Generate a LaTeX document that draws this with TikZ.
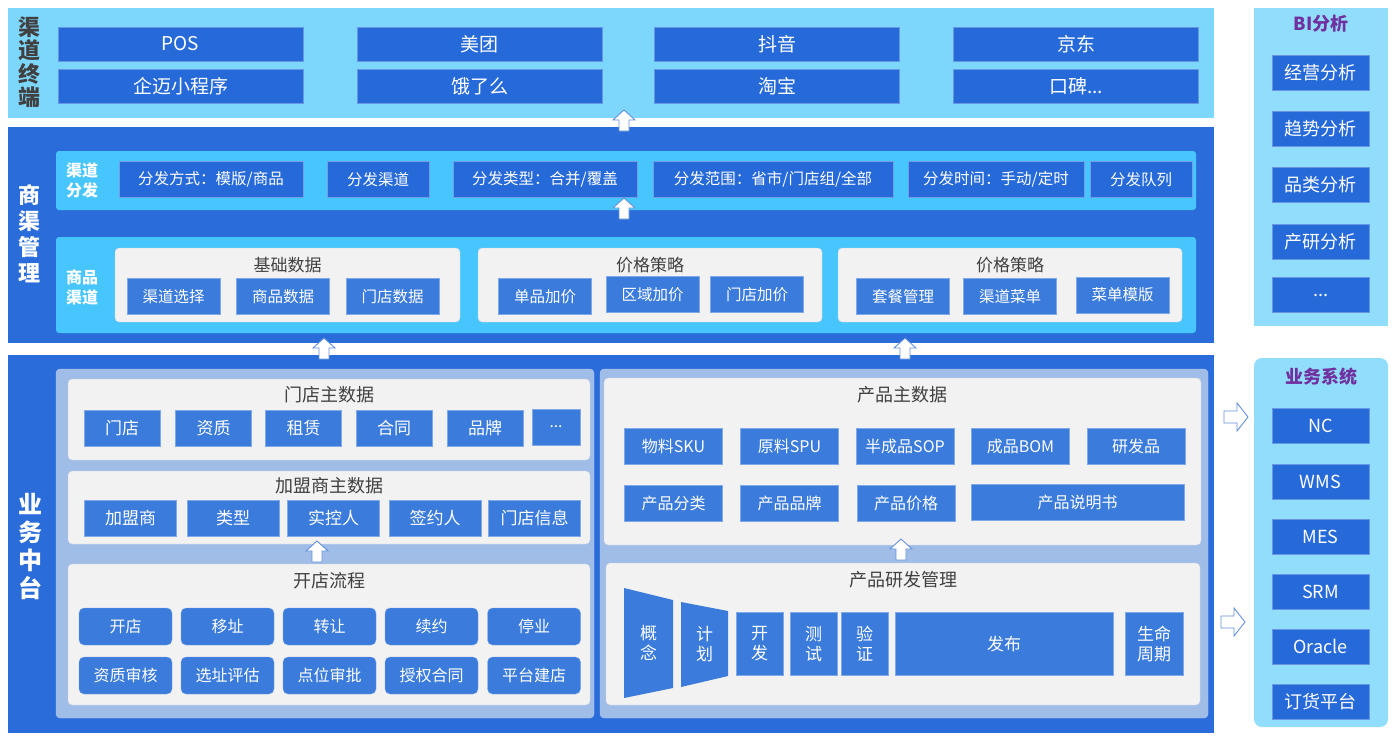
\documentclass[tikz,border=0pt]{standalone}
\usepackage{fontspec}
\setmainfont{Noto Sans CJK SC}

\definecolor{bandblue}{RGB}{42,108,217}
\definecolor{skyband}{RGB}{125,214,252}
\definecolor{cyanband}{RGB}{70,198,252}
\definecolor{boxblue}{RGB}{38,106,217}
\definecolor{innerblue}{RGB}{58,123,219}
\definecolor{panelgray}{RGB}{242,242,242}
\definecolor{panelline}{RGB}{200,208,226}
\definecolor{paleblue}{RGB}{160,189,232}
\definecolor{sidepanel}{RGB}{145,222,252}
\definecolor{titlepurple}{RGB}{112,48,160}
\definecolor{labelgray}{RGB}{64,64,64}
\definecolor{arrowline}{RGB}{100,145,222}
\newcommand{\moredots}{...}

\begin{document}
\begin{tikzpicture}[x=1pt, y=-1pt,
    layer/.style={inner sep=0pt, outer sep=0pt},
    sidelabel/.style={align=center, inner sep=0pt, font=\bfseries\fontsize{22}{26}\selectfont},
    sublabel/.style={align=center, inner sep=0pt, text=white, font=\bfseries\fontsize{16}{20}\selectfont},
    termbox/.style={fill=boxblue, draw=boxblue!70!white, text=white, inner sep=0pt,
      minimum width=245pt, minimum height=34pt, font=\fontsize{19}{21}\selectfont},
    distbox/.style={fill=boxblue, draw=boxblue!65!white, text=white, inner sep=0pt,
      minimum height=36pt, font=\fontsize{15.5}{17}\selectfont},
    grouppanel/.style={fill=panelgray, draw=panelline, rounded corners=4pt, inner sep=0pt},
    paletitle/.style={text=labelgray, inner sep=0pt, font=\fontsize{17}{19}\selectfont},
    ibox/.style={fill=innerblue, draw=innerblue!65!white, text=white, inner sep=0pt,
      minimum height=36pt, font=\fontsize{15.5}{17}\selectfont},
    rbox/.style={ibox, rounded corners=5pt, minimum width=93pt, minimum height=37pt, font=\fontsize{16}{18}\selectfont},
    rdtext/.style={text=white, align=center, inner sep=0pt, font=\fontsize{17}{20}\selectfont},
    sidebox/.style={fill=boxblue, draw=boxblue!70!white, text=white, inner sep=0pt,
      minimum width=97pt, minimum height=35pt, font=\fontsize{18}{20}\selectfont},
    sidetitle/.style={text=titlepurple, inner sep=0pt, font=\bfseries\fontsize{18}{20}\selectfont},
    uparrow/.pic={\draw[draw=arrowline, fill=white, line width=0.9pt]
      (0,0) -- (11,10) -- (5,10) -- (5,21) -- (-5,21) -- (-5,10) -- (-11,10) -- cycle;},
    rightarrow/.pic={\draw[draw=arrowline, fill=white, line width=0.9pt]
      (0,0) -- (-11,-14) -- (-11,-6) -- (-24,-6) -- (-24,6) -- (-11,6) -- (-11,14) -- cycle;}
  ]
  \useasboundingbox (0,0) rectangle (1400,740);

  % Channel terminals
  \node[layer, fill=skyband, minimum width=1206pt, minimum height=110pt] (termlayer) at (611,63) {};
  \node[sidelabel, text=labelgray, font=\bfseries\fontsize{22}{23.5}\selectfont] (termlabel) at (30,62) {渠\\道\\终\\端};
  \foreach \nm/\cx/\txt in {pos/180.5/POS, meituan/479.5/美团, douyin/777/抖音, jingdong/1076/京东}
    \node[termbox] (\nm) at (\cx,44) {\txt};
  \foreach \nm/\cx/\txt in {mini/180.5/企迈小程序, eleme/479.5/饿了么, taobao/777/淘宝, koubei/1076/{口碑\moredots}}
    \node[termbox] (\nm) at (\cx,86.5) {\txt};

  % Channel management
  \node[layer, fill=bandblue, minimum width=1206pt, minimum height=216pt] (mgmtlayer) at (611,235) {};
  \node[sidelabel, text=white] (mgmtlabel) at (30,234) {商\\渠\\管\\理};

  \node[layer, fill=cyanband, rounded corners=3pt, minimum width=1140pt, minimum height=59pt] (distband) at (626,180.5) {};
  \node[sublabel] (distlabel) at (82,180) {渠道\\分发};
  \foreach \nm/\cx/\w/\txt in {distmode/211/184/{分发方式：模版/商品}, distchan/378/102/分发渠道,
      disttype/545/184/{分发类型：合并/覆盖}, distscope/773/240/{分发范围：省市/门店组/全部},
      disttime/996/176/{分发时间：手动/定时}, distqueue/1141/102/分发队列}
    \node[distbox, minimum width=\w pt] (\nm) at (\cx,179.5) {\txt};

  \node[layer, fill=cyanband, rounded corners=3pt, minimum width=1140pt, minimum height=96pt] (goodsband) at (626,285) {};
  \node[sublabel] (goodslabel) at (82,287) {商品\\渠道};
  \node[grouppanel, minimum width=345pt, minimum height=74pt] (basepanel) at (287.5,285) {};
  \node[paletitle] (basetitle) at (287.5,265) {基础数据};
  \node[grouppanel, minimum width=344pt, minimum height=74pt] (pricepanel) at (650,285) {};
  \node[paletitle] (pricetitle) at (650,265) {价格策略};
  \node[grouppanel, minimum width=344pt, minimum height=74pt] (menupanel) at (1010,285) {};
  \node[paletitle] (menutitle) at (1010,265) {价格策略};
  \foreach \nm/\cx/\cy/\txt in {chansel/173.5/296.5/渠道选择, goodsdata/283/296.5/商品数据, storedata/392.5/296.5/门店数据,
      itemprice/545/296.5/单品加价, areaprice/652.5/294.5/区域加价, storeprice/757/294.5/门店加价,
      combo/903/296.5/套餐管理, chanmenu/1010/296.5/渠道菜单, menutpl/1122.5/295/菜单模版}
    \node[ibox, minimum width=93pt] (\nm) at (\cx,\cy) {\txt};

  % Business middle platform
  \node[layer, fill=bandblue, minimum width=1206pt, minimum height=378pt] (bizlayer) at (611,544) {};
  \node[sidelabel, text=white, font=\bfseries\fontsize{24}{28}\selectfont] (bizlabel) at (30,546) {业\\务\\中\\台};
  \node[layer, fill=paleblue, draw=paleblue!85!white, rounded corners=4pt, minimum width=538pt, minimum height=349pt] (storeside) at (325,543.5) {};
  \node[layer, fill=paleblue, draw=paleblue!85!white, rounded corners=4pt, minimum width=608pt, minimum height=349pt] (prodside) at (904,543.5) {};

  % store master data
  \node[grouppanel, minimum width=522pt, minimum height=81pt] (storepanel) at (329,419.5) {};
  \node[paletitle, font=\fontsize{18}{20}\selectfont] (storetitle) at (329,395) {门店主数据};
  \foreach \nm/\cx/\txt in {store/122/门店, qualif/213.5/资质, lease/303.5/租赁, contract/394/合同, brand/485/品牌}
    \node[ibox, minimum width=76pt, font=\fontsize{17}{19}\selectfont] (\nm) at (\cx,428.5) {\txt};
  \node[ibox, minimum width=48pt] (storemore) at (556,427) {\moredots};

  % franchisee master data
  \node[grouppanel, minimum width=522pt, minimum height=73pt] (franpanel) at (329,507.5) {};
  \node[paletitle, font=\fontsize{18}{20}\selectfont] (frantitle) at (329,486) {加盟商主数据};
  \foreach \nm/\cx/\txt in {franchisee/130.5/加盟商, frantype/233/类型, controller/333.5/实控人, signer/435/签约人, storeinfo/534.5/门店信息}
    \node[ibox, minimum width=92pt, font=\fontsize{17}{19}\selectfont] (\nm) at (\cx,518) {\txt};

  % store opening flow
  \node[grouppanel, minimum width=522pt, minimum height=141pt] (openpanel) at (329,634.5) {};
  \node[paletitle, font=\fontsize{18}{20}\selectfont] (opentitle) at (329,581) {开店流程};
  \foreach \nm/\cx/\txt in {open/125.5/开店, move/227.5/移址, transfer/329.5/转让, renew/431.5/续约, suspend/534/停业}
    \node[rbox] (\nm) at (\cx,626.5) {\txt};
  \foreach \nm/\cx/\txt in {audit/125.5/资质审核, siteeval/227.5/选址评估, pointok/329.5/点位审批, license/431.5/授权合同, build/534/平台建店}
    \node[rbox] (\nm) at (\cx,675.5) {\txt};

  % product master data
  \node[grouppanel, minimum width=597pt, minimum height=167pt] (prodpanel) at (902.5,461.5) {};
  \node[paletitle, font=\fontsize{18}{20}\selectfont] (prodtitle) at (902.5,395) {产品主数据};
  \foreach \nm/\cx/\txt in {sku/673.5/物料SKU, spu/789.5/原料SPU, sop/905/半成品SOP, bom/1020.5/成品BOM, rditem/1136/研发品}
    \node[ibox, minimum width=98pt, font=\fontsize{16}{18}\selectfont] (\nm) at (\cx,446) {\txt};
  \foreach \nm/\cx/\txt in {prodcat/673.5/产品分类, prodbrand/789.5/产品品牌, prodprice/906/产品价格}
    \node[ibox, minimum width=98pt, font=\fontsize{16}{18}\selectfont] (\nm) at (\cx,503) {\txt};
  \node[ibox, minimum width=213pt, font=\fontsize{16}{18}\selectfont] (manual) at (1077.5,502) {产品说明书};

  % product R&D management
  \node[grouppanel, minimum width=594pt, minimum height=142pt] (rdpanel) at (903,634) {};
  \node[paletitle, font=\fontsize{18}{20}\selectfont] (rdtitle) at (903,580) {产品研发管理};
  \fill[innerblue] (624,588) -- (673,600) -- (673,688) -- (624,698) -- cycle;
  \node[rdtext] (concept) at (648.5,643) {概\\念};
  \fill[innerblue] (681,602) -- (728,611) -- (728,676) -- (681,687) -- cycle;
  \node[rdtext] (plan) at (704.5,644) {计\\划};
  \foreach \nm/\cx/\w/\txt in {develop/759.5/47/{开\\发}, test/813.5/47/{测\\试}, verify/864.5/47/{验\\证},
      release/1004/218/发布, lifecycle/1154/58/{生命\\周期}}
    \node[ibox, rdtext, minimum width=\w pt, minimum height=63pt] (\nm) at (\cx,644) {\txt};

  % BI and business systems
  \node[layer, fill=sidepanel, minimum width=134pt, minimum height=318pt] (bipanel) at (1321,167) {};
  \node[sidetitle] (bititle) at (1321,24) {BI分析};
  \foreach \nm/\cy/\txt in {bizana/73/经营分析, trendana/129/趋势分析, catana/185/品类分析, rdana/241.5/产研分析, biana/295/{\moredots}}
    \node[sidebox] (\nm) at (1320.5,\cy) {\txt};

  \node[layer, fill=sidepanel, rounded corners=8pt, minimum width=134pt, minimum height=369pt] (syspanel) at (1321,542.5) {};
  \node[sidetitle] (systitle) at (1321,377) {业务系统};
  \foreach \nm/\cy/\txt in {nc/426/NC, wms/481.5/WMS, mes/536.5/MES, srm/591.5/SRM, oracle/646.5/Oracle, ordering/701.5/订货平台}
    \node[sidebox] (\nm) at (1320.5,\cy) {\txt};

  % hollow block arrows
  \pic at (624,110) {uparrow};
  \pic at (624,198) {uparrow};
  \pic at (324,338) {uparrow};
  \pic at (905,338) {uparrow};
  \pic at (317,541) {uparrow};
  \pic at (901,539) {uparrow};
  \pic at (1248,417) {rightarrow};
  \pic at (1245,622) {rightarrow};
\end{tikzpicture}
\end{document}
